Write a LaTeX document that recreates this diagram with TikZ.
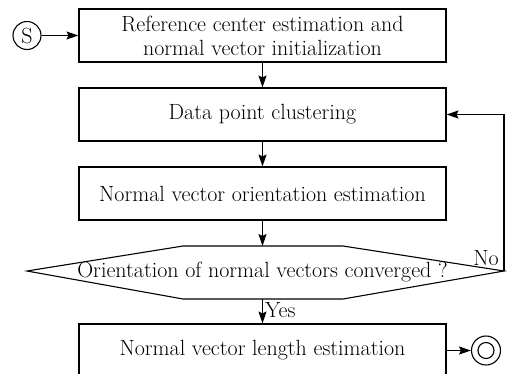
\documentclass[tikz,border=0pt]{standalone}
\usetikzlibrary{arrows.meta}
\begin{document}
\begin{tikzpicture}[x=1pt,y=-1pt,line width=1.1pt,
  txt/.style={font=\fontsize{22}{24}\selectfont},
  box/.style={draw,txt,minimum width=367pt,minimum height=53pt,inner sep=0pt,align=center},
  term/.style={draw,circle,txt,minimum size=28pt,inner sep=0pt},
  arr/.style={-{Stealth[length=12pt,width=8pt,inset=2pt]}}]
\useasboundingbox (0,0) rectangle (507,373);
\clip (0,0) rectangle (507,373);

% process boxes
\node[box] (b1) at (262.5,35.5) {Reference center estimation and\\normal vector initialization};
\node[box] (b2) at (262.5,114.5) {Data point clustering};
\node[box] (b3) at (262.5,193.5) {Normal vector orientation estimation};
\node[box] (b4) at (262.5,350.5) {Normal vector length estimation};

% decision hexagon
\draw (27,271) coordinate (hl) -- (183,246) -- (343,246) -- (504,271) coordinate (hr)
      -- (343,299) -- (183,299) -- cycle;
\coordinate (ht) at (262.5,246);
\coordinate (hb) at (262.5,299);
\node[txt,inner sep=0pt] (dq) at (262.5,272) {Orientation of normal vectors converged ?};

% start and end terminals
\node[term] (s) at (27,35.5) {S};
\node[term,minimum size=29pt] (e) at (486,350.5) {};
\node[draw,circle,minimum size=16pt,inner sep=0pt] (ei) at (e) {};

% connectors
\draw[arr] (s) -- (b1);
\draw[arr] (b1) -- (b2);
\draw[arr] (b2) -- (b3);
\draw[arr] (b3) -- (ht);
\draw[arr] (hb) -- node[txt,right,inner sep=2pt,pos=0.45] {Yes} (b4);
\draw[arr] (b4) -- (e);
\draw[arr] (hr) |- (b2.east);
\node[txt,inner sep=0pt] (no) at (486,258) {No};
\end{tikzpicture}
\end{document}
